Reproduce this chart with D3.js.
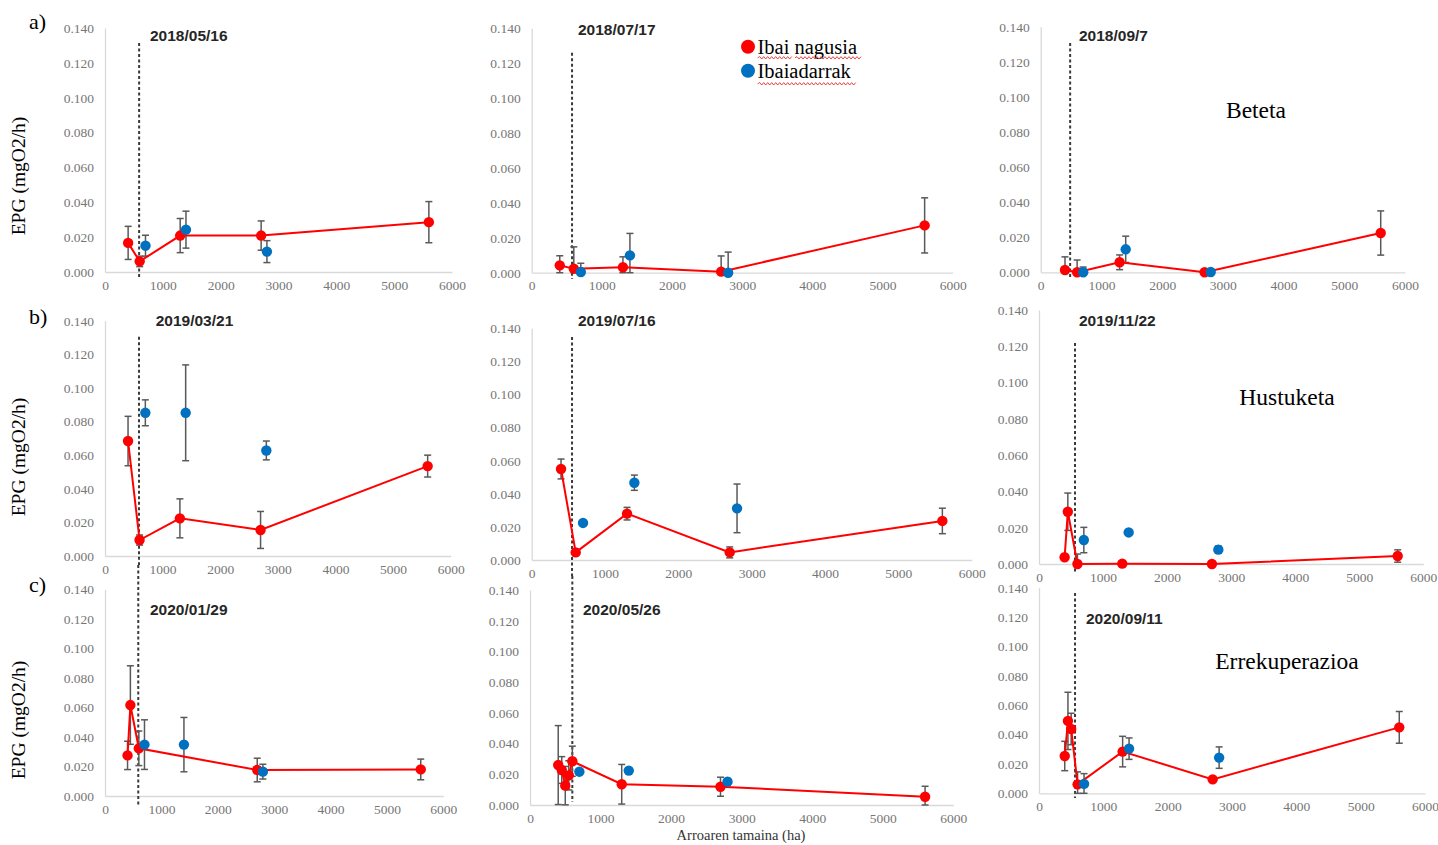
<!DOCTYPE html>
<html>
<head>
<meta charset="utf-8">
<script src="https://cdn.jsdelivr.net/npm/d3@7"></script>
<style>
  html, body { margin: 0; padding: 0; background: #fff; }
  svg { display: block; }
  .tick text { font-family: "Liberation Serif", "Times New Roman", serif; font-size: 13.5px; fill: #767676; }
  .domain { stroke: #d9d9d9; stroke-width: 1.3; }
</style>
</head>
<body>
<svg id="fig" width="1438" height="845"></svg>
<script>
// ---- data -------------------------------------------------------------
const panelDates = ["2018/05/16", "2018/07/17", "2018/09/7",
                    "2019/03/21", "2019/07/16", "2019/11/22",
                    "2020/01/29", "2020/05/26", "2020/09/11"];
const rowLabels = ["a)", "b)", "c)"];
const phaseLabels = ["Beteta", "Hustuketa", "Errekuperazioa"];
const seriesNames = ["Ibai nagusia", "Ibaiadarrak"];
const yTicks = [0, 0.02, 0.04, 0.06, 0.08, 0.10, 0.12, 0.14];
const xTicks = [0, 1000, 2000, 3000, 4000, 5000, 6000];
const yTitle = "EPG (mgO2/h)";
const xTitle = "Arroaren tamaina (ha)";

// catchment size of the reference point (dashed line), ha
const thresholdX = [590, 575, 485, 590, 550, 562, 590, 600, 560];

// main river (Ibai nagusia): catchment size (ha), EPG and error
const mainX = [
  [400, 600, 1300, 2700, 5600],
  [400, 600, 1300, 2700, 5600],
  [400, 600, 1300, 2700, 5600],
  [400, 600, 1300, 2700, 5600],
  [400, 600, 1300, 2700, 5600],
  [400, 450, 600, 1300, 2700, 5600],
  [400, 450, 600, 2700, 5600],
  [400, 450, 500, 550, 600, 1300, 2700, 5600],
  [400, 450, 500, 600, 1300, 2700, 5600]
];
const mainEPG = [
  [0.0167, 0.0061, 0.0209, 0.0209, 0.0286],
  [0.0042, 0.0023, 0.0031, 0.0006, 0.0271],
  [0.0013, 0.0000, 0.0057, 0.0000, 0.0224],
  [0.0684, 0.0095, 0.0224, 0.0155, 0.0535],
  [0.0550, 0.0046, 0.0280, 0.0046, 0.0236],
  [0.0037, 0.0288, 0.0000, 0.0002, 0.0000, 0.0044],
  [0.0275, 0.0616, 0.0323, 0.0176, 0.0180],
  [0.0260, 0.0228, 0.0126, 0.0193, 0.0285, 0.0135, 0.0119, 0.0054],
  [0.0254, 0.0493, 0.0438, 0.0061, 0.0284, 0.0095, 0.0449]
];
const mainErr = [
  [0.0095, 0.0030, 0.0098, 0.0084, 0.0118],
  [0.0055, 0.0125, 0.0060, 0.0090, 0.0158],
  [0.0075, 0.0070, 0.0042, 0.0000, 0.0126],
  [0.0147, 0.0030, 0.0116, 0.0110, 0.0065],
  [0.0060, 0.0020, 0.0038, 0.0033, 0.0077],
  [0.0000, 0.0103, 0.0055, 0.0000, 0.0000, 0.0034],
  [0.0096, 0.0266, 0.0117, 0.0080, 0.0070],
  [0.0257, 0.0087, 0.0125, 0.0095, 0.0098, 0.0129, 0.0062, 0.0068],
  [0.0100, 0.0195, 0.0107, 0.0085, 0.0104, 0.0000, 0.0108]
];

// tributaries (Ibaiadarrak)
const tribX = [700, 1400, 2800];
const tribEPG = [
  [0.0151, 0.0243, 0.0117],
  [0.0004, 0.0099, 0.0000],
  [0.0000, 0.0131, 0.0002],
  [0.0852, 0.0852, 0.0628],
  [0.0224, 0.0467, 0.0312],
  [0.0132, 0.0174, 0.0079],
  [0.0348, 0.0348, 0.0165],
  [0.0217, 0.0224, 0.0152],
  [0.0064, 0.0304, 0.0243]
];
const tribErr = [
  [0.0060, 0.0106, 0.0063],
  [0.0050, 0.0126, 0.0118],
  [0.0030, 0.0075, 0.0000],
  [0.0077, 0.0285, 0.0056],
  [0.0000, 0.0046, 0.0147],
  [0.0070, 0.0000, 0.0020],
  [0.0168, 0.0184, 0.0050],
  [0.0000, 0.0010, 0.0020],
  [0.0070, 0.0073, 0.0073]
];

// ---- layout (pixel frame of each small chart) -------------------------
const frames = [
  {x0: 105,    x1: 452,    yT: 28,    yB: 272,   tx: 150,   ty: 36,    dT: 43,    dB: 278},
  {x0: 531.7,  x1: 952.7,  yT: 28.3,  yB: 272.7, tx: 578,   ty: 30,    dT: 52.7,  dB: 279},
  {x0: 1040.7, x1: 1405,   yT: 26.7,  yB: 272.3, tx: 1079,  ty: 36,    dT: 43,    dB: 277},
  {x0: 105,    x1: 450.7,  yT: 320.7, yB: 556,   tx: 155.7, ty: 320.7, dT: 336.7, dB: 565},
  {x0: 531.7,  x1: 971.7,  yT: 328.3, yB: 560,   tx: 578,   ty: 320.7, dT: 337,   dB: 576},
  {x0: 1039,   x1: 1423.3, yT: 310,   yB: 564,   tx: 1079,  ty: 320.7, dT: 343,   dB: 572},
  {x0: 105,    x1: 443.3,  yT: 589.3, yB: 796,   tx: 150,   ty: 610,   dT: 565,   dB: 807},
  {x0: 530,    x1: 953.3,  yT: 590,   yB: 805,   tx: 583,   ty: 610,   dT: 576,   dB: 802},
  {x0: 1039,   x1: 1425,   yT: 587.7, yB: 793.3, tx: 1086,  ty: 618.3, dT: 593,   dB: 798}
];

const RED = "#ff0000", BLUE = "#0070c0", ERR = "#595959";
const serif = '"Liberation Serif", "Times New Roman", serif';
const svg = d3.select("#fig");
svg.append("rect").attr("width", 1438).attr("height", 845).attr("fill", "#fff");

function errorBars(g, xs, ys, es, x, y) {
  const bars = g.append("g").attr("stroke", ERR).attr("stroke-width", 1.5).attr("fill", "none");
  xs.forEach((xv, i) => {
    if (es[i] <= 0) return;
    const top = y(ys[i] + es[i]);
    const bot = y(Math.max(0, ys[i] - es[i]));
    const cx = x(xv);
    bars.append("line").attr("x1", cx).attr("x2", cx).attr("y1", top).attr("y2", bot);
    bars.append("line").attr("x1", cx - 3.5).attr("x2", cx + 3.5).attr("y1", top).attr("y2", top);
    bars.append("line").attr("x1", cx - 3.5).attr("x2", cx + 3.5).attr("y1", bot).attr("y2", bot);
  });
}

frames.forEach((f, p) => {
  const x = d3.scaleLinear().domain([0, 6000]).range([f.x0, f.x1]);
  const y = d3.scaleLinear().domain([0, 0.14]).range([f.yB, f.yT]);
  const g = svg.append("g");

  g.append("g").attr("transform", `translate(${f.x0},0)`)
    .call(d3.axisLeft(y).tickValues(yTicks).tickFormat(d3.format(".3f")).tickSize(0).tickPadding(11));
  g.append("g").attr("transform", `translate(0,${f.yB})`)
    .call(d3.axisBottom(x).tickValues(xTicks).tickFormat(d3.format("d")).tickSize(0).tickPadding(8));

  // reference catchment size
  g.append("line")
    .attr("x1", x(thresholdX[p])).attr("x2", x(thresholdX[p]))
    .attr("y1", f.dT).attr("y2", f.dB)
    .attr("stroke", "#3a3a3a").attr("stroke-width", 2).attr("stroke-dasharray", "3,2.5");

  // sampling date
  g.append("text").attr("x", f.tx).attr("y", f.ty).attr("dy", "0.35em")
    .attr("font-family", '"Liberation Sans", Arial, sans-serif').attr("font-weight", "bold")
    .attr("font-size", 15.5).attr("fill", "#262626").text(panelDates[p]);

  const mx = mainX[p], my = mainEPG[p];
  errorBars(g, mx, my, mainErr[p], x, y);
  errorBars(g, tribX, tribEPG[p], tribErr[p], x, y);

  const line = d3.line().x(d => x(d[0])).y(d => y(d[1]));
  g.append("path").datum(mx.map((v, i) => [v, my[i]]))
    .attr("d", line).attr("fill", "none").attr("stroke", RED).attr("stroke-width", 2);

  g.append("g").selectAll("circle").data(mx.map((v, i) => [v, my[i]])).join("circle")
    .attr("cx", d => x(d[0])).attr("cy", d => y(d[1])).attr("r", 5.2).attr("fill", RED);
  g.append("g").selectAll("circle").data(tribX.map((v, i) => [v, tribEPG[p][i]])).join("circle")
    .attr("cx", d => x(d[0])).attr("cy", d => y(d[1])).attr("r", 5.2).attr("fill", BLUE);
});

// row letters and y titles
const rowLetterY = [29, 324, 592];
const yTitleY = [176, 457, 720];
rowLabels.forEach((t, r) => {
  svg.append("text").attr("x", 29).attr("y", rowLetterY[r])
    .attr("font-family", serif).attr("font-size", 22).attr("fill", "#000").text(t);
  svg.append("text").attr("transform", `translate(25,${yTitleY[r]}) rotate(-90)`)
    .attr("text-anchor", "middle").attr("font-family", serif).attr("font-size", 19.5)
    .attr("fill", "#000").text(yTitle);
});

// phase names on the right column
const phasePos = [[1256, 110], [1287, 397], [1287, 661]];
phaseLabels.forEach((t, i) => {
  svg.append("text").attr("x", phasePos[i][0]).attr("y", phasePos[i][1]).attr("dy", "0.35em")
    .attr("text-anchor", "middle").attr("font-family", serif).attr("font-size", 23.5)
    .attr("fill", "#000").text(t);
});

// x title
svg.append("text").attr("x", 741).attr("y", 840).attr("text-anchor", "middle")
  .attr("font-family", serif).attr("font-size", 14.5).attr("fill", "#333").text(xTitle);

// legend
const legend = svg.append("g");
const legColors = [RED, BLUE];
const legY = [46.7, 70.7];
seriesNames.forEach((name, i) => {
  legend.append("circle").attr("cx", 748).attr("cy", legY[i]).attr("r", 7).attr("fill", legColors[i]);
  legend.append("text").attr("x", 757.5).attr("y", legY[i] + 7.5)
    .attr("font-family", serif).attr("font-size", 20.5).attr("fill", "#000").text(name);
});
// spell-check squiggles under the legend words
function squiggle(xa, xb, yy) {
  let d = `M${xa},${yy}`;
  let up = true;
  for (let xx = xa + 2; xx <= xb; xx += 2) { d += ` L${xx},${yy + (up ? -1.2 : 1.2)}`; up = !up; }
  return d;
}
[[757.7, 791.7, 57.8], [795, 861, 57.8], [757.7, 856, 83.8]].forEach(s => {
  legend.append("path").attr("d", squiggle(s[0], s[1], s[2]))
    .attr("fill", "none").attr("stroke", "#e8302a").attr("stroke-width", 0.9);
});
</script>
</body>
</html>
